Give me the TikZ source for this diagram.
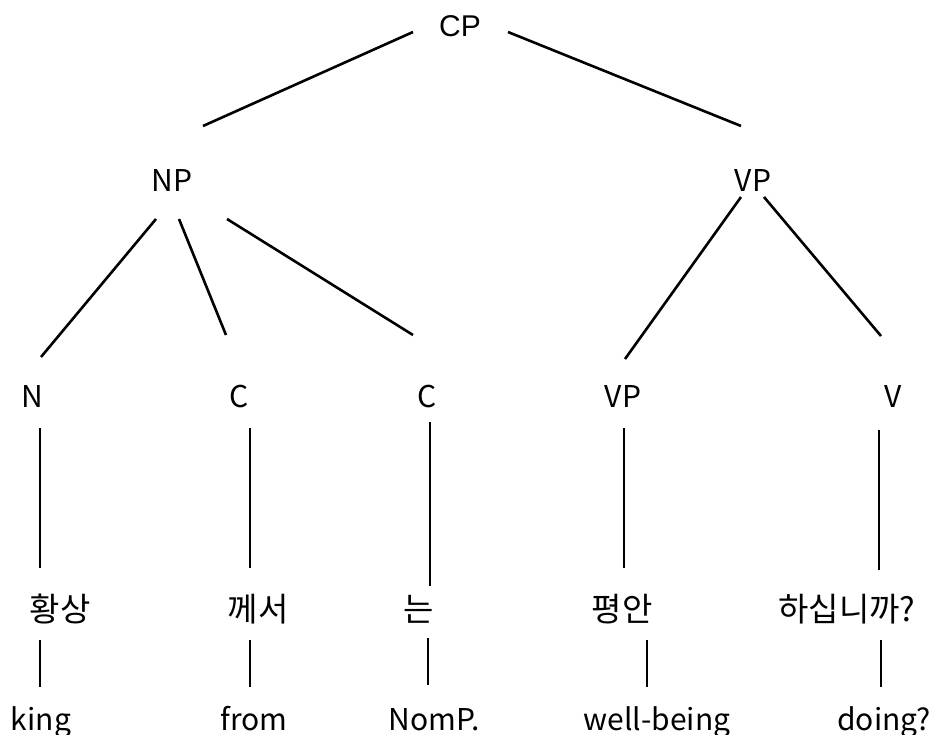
\documentclass[tikz,border=0pt]{standalone}
\usepackage{fontspec}
\setmainfont{Noto Sans CJK KR}
\newfontfamily\cpfont{Liberation Sans}

\tikzset{
  lbl/.style={inner sep=0pt, anchor=base, font=\fontsize{30}{36}\selectfont},
  hangul/.style={lbl, font=\fontsize{33}{40}\selectfont},
  branch/.style={line width=2.6pt, line cap=butt}
}

\begin{document}
\begin{tikzpicture}[x=1pt, y=-1pt, line join=round]
  \useasboundingbox (0,0) rectangle (934,735);
  % phrase level
  \node[lbl, font=\fontsize{30}{36}\cpfont] (cp) at (460,37) {CP};
  \node[lbl] (np) at (172,192) {NP};
  \node[lbl] (vp) at (753,192) {VP};
  % word classes
  \node[lbl] (n)   at (32,407)  {N};
  \node[lbl] (c1)  at (239,407) {C};
  \node[lbl] (c2)  at (427,407) {C};
  \node[lbl] (vp2) at (623,407) {VP};
  \node[lbl] (v)   at (893,407) {V};
  % korean words
  \node[hangul] (w1) at (60,621)  {황상};
  \node[hangul] (w2) at (258,621) {께서};
  \node[hangul] (w3) at (419,621) {는};
  \node[hangul] (w4) at (622,621) {평안};
  \node[hangul] (w5) at (847,621) {하십니까?};
  % glosses
  \node[lbl] (g1) at (41,730)  {king};
  \node[lbl] (g2) at (254,730) {from};
  \node[lbl] (g3) at (434,730) {NomP.};
  \node[lbl] (g4) at (657,730) {well-being};
  \node[lbl] (g5) at (884,730) {doing?};
  % branches
  \foreach \a/\ax/\ay/\b/\bx/\by in {
      cp/-47/-5/np/31/-66, cp/48/-5/vp/-12/-66,
      np/-16/27/n/9/-50, np/7/27/c1/-13/-72, np/55/27/c2/-14/-72,
      vp/-12/5/vp2/2/-48, vp/11/5/v/-12/-71,
      n/8/21/w1/-20/-53, c1/11/21/w2/-8/-53, c2/3/15/w3/11/-35,
      vp2/1/21/w4/2/-53, v/-14/23/w5/32/-51,
      w1/-20/19/g1/-1/-43, w2/-8/19/g2/-4/-43, w3/9/17/g3/-6/-45,
      w4/25/19/g4/-10/-43, w5/34/19/g5/-3/-43}
    \draw[branch] ([shift={(\ax,\ay)}]\a.base) -- ([shift={(\bx,\by)}]\b.base);
\end{tikzpicture}
\end{document}
